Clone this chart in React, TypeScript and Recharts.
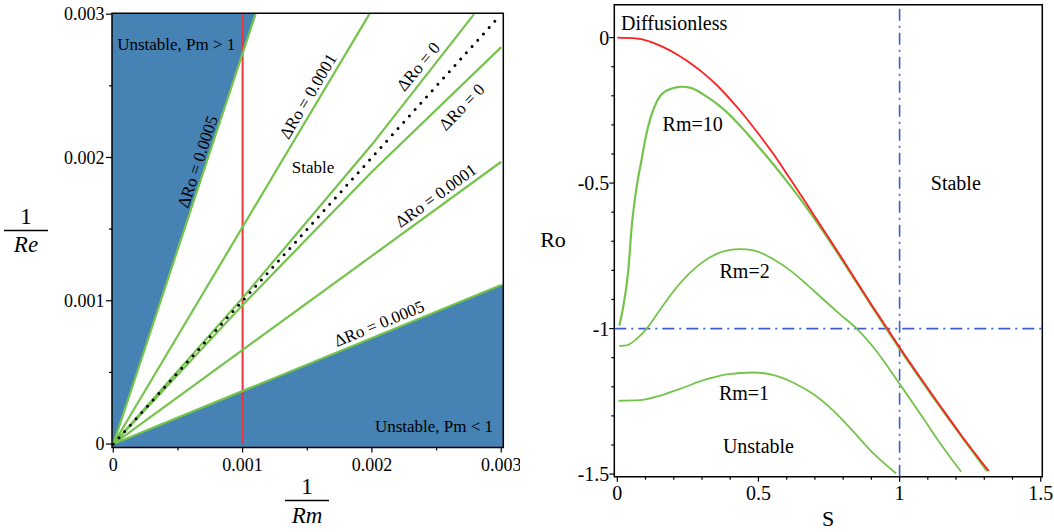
import React from "react";
import {
  ComposedChart,
  Line,
  Area,
  XAxis,
  YAxis,
  ReferenceArea,
  ReferenceLine,
  ReferenceDot,
} from "recharts";

const SERIF = "'Liberation Serif', 'Times New Roman', serif";
const GREEN = "#74c44c";
const STEEL = "#4682b4";
const DASH_BLUE = "#3f5fc6";

// ---------- left panel: 1/Rm vs 1/Re ----------
const invRmMajor = [0, 0.001, 0.002, 0.003];
const invRmMinor = [0.0005, 0.0015, 0.0025];
const invReMajor = [0, 0.001, 0.002, 0.003];
const invReMinor = [0.0005, 0.0015, 0.0025];

const L_X: [number, number] = [-0.00001, 0.003016];
const L_Y: [number, number] = [-0.000024, 0.003006];

// marginal curves, labelled by ΔRo
const dRo0005Upper = [
  { x: 0, y: 0 },
  { x: 0.0011, y: 0.003 },
];
const dRo0001Upper = [
  { x: 0, y: 0 },
  { x: 0.00198, y: 0.003 },
];
const dRo0Upper = [
  { x: 0, y: 0 },
  { x: 0.001, y: 0.00102 },
  { x: 0.002, y: 0.00209 },
  { x: 0.00279, y: 0.003 },
];
const pmUnity = [
  { x: 0, y: 0 },
  { x: 0.00297, y: 0.00297 },
];
const dRo0Lower = [
  { x: 0, y: 0 },
  { x: 0.001, y: 0.00097 },
  { x: 0.002, y: 0.0019 },
  { x: 0.003, y: 0.00277 },
];
const dRo0001Lower = [
  { x: 0, y: 0 },
  { x: 0.003, y: 0.00197 },
];
const dRo0005Lower = [
  { x: 0, y: 0 },
  { x: 0.003, y: 0.00111 },
];
const rmCut = [
  { x: 0.001, y: 0 },
  { x: 0.001, y: 0.003 },
];

// shaded unstable wedges (low, high)
const unstableHighPm = [
  { x: L_X[0], band: [L_Y[0], L_Y[1]] },
  { x: 0, band: [0, L_Y[1]] },
  { x: 0.0011, band: [0.003, L_Y[1]] },
];
const unstableLowPm = [
  { x: L_X[0], band: [L_Y[0], 0] },
  { x: 0, band: [L_Y[0], 0] },
  { x: 0.003, band: [L_Y[0], 0.00111] },
  { x: L_X[1], band: [L_Y[0], 0.001116] },
];

const leftNotes = [
  { text: "ΔRo = 0.0005", x: 0.000651, y: 0.00197, angle: 71.7 },
  { text: "ΔRo = 0.0001", x: 0.001504, y: 0.002428, angle: 59.3 },
  { text: "ΔRo = 0", x: 0.002357, y: 0.002635, angle: 49.9 },
  { text: "ΔRo = 0", x: 0.002693, y: 0.002353, angle: 45.7 },
  { text: "ΔRo = 0.0001", x: 0.002494, y: 0.001735, angle: 36 },
  { text: "ΔRo = 0.0005", x: 0.002055, y: 0.000842, angle: 22.3 },
];

// ---------- right panel: S vs Ro ----------
const sMajor = [0, 0.5, 1, 1.5];
const sMinor = [0.1, 0.2, 0.3, 0.4, 0.6, 0.7, 0.8, 0.9, 1.1, 1.2, 1.3, 1.4];
const roMajor = [0, -0.5, -1, -1.5];
const roMinor = [-0.1, -0.2, -0.3, -0.4, -0.6, -0.7, -0.8, -0.9, -1.1, -1.2, -1.3, -1.4];

const R_X: [number, number] = [-0.0106, 1.5055];
const R_Y: [number, number] = [-1.509, 0.113];

const diffusionless = [
  { s: 0, ro: 0 }, { s: 0.065, ro: -0.003 }, { s: 0.116, ro: -0.014 },
  { s: 0.163, ro: -0.033 }, { s: 0.21, ro: -0.057 }, { s: 0.258, ro: -0.087 },
  { s: 0.305, ro: -0.122 }, { s: 0.352, ro: -0.163 }, { s: 0.4, ro: -0.212 },
  { s: 0.447, ro: -0.265 }, { s: 0.494, ro: -0.323 }, { s: 0.553, ro: -0.4 },
  { s: 0.612, ro: -0.485 }, { s: 0.671, ro: -0.572 }, { s: 0.73, ro: -0.66 },
  { s: 0.79, ro: -0.75 }, { s: 0.849, ro: -0.84 }, { s: 0.908, ro: -0.929 },
  { s: 0.955, ro: -0.998 }, { s: 1.002, ro: -1.068 }, { s: 1.073, ro: -1.168 },
  { s: 1.144, ro: -1.266 }, { s: 1.215, ro: -1.362 }, { s: 1.316, ro: -1.49 },
];
const rm10 = [
  { s: 0.007, ro: -0.99 }, { s: 0.021, ro: -0.925 }, { s: 0.039, ro: -0.8 },
  { s: 0.051, ro: -0.65 }, { s: 0.069, ro: -0.51 }, { s: 0.086, ro: -0.42 },
  { s: 0.1, ro: -0.345 }, { s: 0.118, ro: -0.275 }, { s: 0.14, ro: -0.22 },
  { s: 0.175, ro: -0.182 }, { s: 0.228, ro: -0.169 }, { s: 0.26, ro: -0.173 },
  { s: 0.317, ro: -0.203 }, { s: 0.376, ro: -0.246 }, { s: 0.435, ro: -0.303 },
  { s: 0.494, ro: -0.368 }, { s: 0.553, ro: -0.436 }, { s: 0.612, ro: -0.508 },
  { s: 0.671, ro: -0.585 }, { s: 0.73, ro: -0.667 }, { s: 0.79, ro: -0.755 },
  { s: 0.908, ro: -0.933 }, { s: 1.002, ro: -1.072 }, { s: 1.144, ro: -1.27 },
  { s: 1.31, ro: -1.49 },
];
const rm2 = [
  { s: 0.007, ro: -1.06 }, { s: 0.033, ro: -1.058 }, { s: 0.069, ro: -1.035 },
  { s: 0.104, ro: -1.0 }, { s: 0.151, ro: -0.936 }, { s: 0.199, ro: -0.872 },
  { s: 0.258, ro: -0.808 }, { s: 0.317, ro: -0.762 }, { s: 0.376, ro: -0.735 },
  { s: 0.435, ro: -0.727 }, { s: 0.482, ro: -0.731 }, { s: 0.553, ro: -0.762 },
  { s: 0.612, ro: -0.8 }, { s: 0.671, ro: -0.848 }, { s: 0.73, ro: -0.9 },
  { s: 0.79, ro: -0.952 }, { s: 0.848, ro: -1.0 }, { s: 0.908, ro: -1.065 },
  { s: 1.0, ro: -1.19 }, { s: 1.085, ro: -1.31 }, { s: 1.144, ro: -1.395 },
  { s: 1.218, ro: -1.492 },
];
const rm1 = [
  { s: 0.004, ro: -1.248 }, { s: 0.08, ro: -1.246 }, { s: 0.139, ro: -1.234 },
  { s: 0.222, ro: -1.207 }, { s: 0.317, ro: -1.174 }, { s: 0.388, ro: -1.157 },
  { s: 0.482, ro: -1.151 }, { s: 0.553, ro: -1.16 }, { s: 0.624, ro: -1.186 },
  { s: 0.695, ro: -1.226 }, { s: 0.766, ro: -1.283 }, { s: 0.837, ro: -1.355 },
  { s: 0.908, ro: -1.43 }, { s: 0.988, ro: -1.498 },
];

const criticalS = 1;
const criticalRo = -1;

const rightNotes = [
  { text: "Rm=10", s: 0.267, ro: -0.297 },
  { text: "Rm=2", s: 0.451, ro: -0.802 },
  { text: "Rm=1", s: 0.449, ro: -1.222 },
  { text: "Unstable", s: 0.5, ro: -1.404 },
  { text: "Stable", s: 1.199, ro: -0.5 },
];

type TickOpts = { major: number; minor: number; size: number; gap: number };

function makeTick(side: "left" | "bottom", majors: number[], o: TickOpts) {
  return (props: any) => {
    const { x, y, payload } = props;
    const v = payload.value;
    const isMajor = majors.some((m) => Math.abs(m - v) < 1e-9);
    const len = isMajor ? o.major : o.minor;
    if (side === "left") {
      return (
        <g>
          <line x1={x} x2={x - len} y1={y} y2={y} stroke="#000" strokeWidth={1.2} />
          {isMajor && (
            <text x={x - o.major - o.gap} y={y} dy="0.35em" textAnchor="end"
              fontFamily={SERIF} fontSize={o.size} fill="#000">
              {String(v)}
            </text>
          )}
        </g>
      );
    }
    return (
      <g>
        <line x1={x} x2={x} y1={y} y2={y + len} stroke="#000" strokeWidth={1.2} />
        {isMajor && (
          <text x={x} y={y + o.gap} textAnchor="middle" fontFamily={SERIF}
            fontSize={o.size} fill="#000">
            {String(v)}
          </text>
        )}
      </g>
    );
  };
}

const note = (text: string, angle: number, size: number, anchor = "middle") => (p: any) => (
  <text x={p.cx} y={p.cy} dy="0.35em" textAnchor={anchor} fontFamily={SERIF} fontSize={size}
    fill="#000" transform={angle ? `rotate(${-angle} ${p.cx} ${p.cy})` : undefined}>
    {text}
  </text>
);

function StabilityPlane() {
  const green = (data: any[], key: string) => (
    <Line key={key} data={data} dataKey="y" type="linear" stroke={GREEN} strokeWidth={2.2}
      dot={false} isAnimationActive={false} />
  );
  return (
    <ComposedChart width={520} height={532}
      margin={{ top: 13.3, right: 16.7, bottom: 83.5, left: 111 }}>
      <XAxis type="number" dataKey="x" domain={L_X} allowDataOverflow
        ticks={[...invRmMajor, ...invRmMinor]} interval={0} height={1}
        axisLine={false} tickLine={false} tickSize={0} tickMargin={0}
        tick={makeTick("bottom", invRmMajor, { major: 5, minor: 3, size: 18, gap: 23 })} />
      <YAxis type="number" dataKey="y" domain={L_Y} allowDataOverflow
        ticks={[...invReMajor, ...invReMinor]} interval={0} width={1}
        axisLine={false} tickLine={false} tickSize={0} tickMargin={0}
        tick={makeTick("left", invReMajor, { major: 6, minor: 3, size: 18, gap: 1.5 })} />
      <Area data={unstableHighPm} dataKey="band" type="linear" stroke="none" fill={STEEL}
        fillOpacity={1} isAnimationActive={false} />
      <Area data={unstableLowPm} dataKey="band" type="linear" stroke="none" fill={STEEL}
        fillOpacity={1} isAnimationActive={false} />
      <Line data={rmCut} dataKey="y" type="linear" stroke="#e8363c" strokeWidth={2}
        dot={false} isAnimationActive={false} />
      {green(dRo0005Upper, "a")}
      {green(dRo0001Upper, "b")}
      {green(dRo0Upper, "c")}
      {green(dRo0Lower, "d")}
      {green(dRo0001Lower, "e")}
      {green(dRo0005Lower, "f")}
      <Line data={pmUnity} dataKey="y" type="linear" stroke="#000" strokeWidth={3}
        strokeDasharray="0 8.5" strokeLinecap="round" dot={false} isAnimationActive={false} />
      <ReferenceArea x1={L_X[0]} x2={L_X[1]} y1={L_Y[0]} y2={L_Y[1]} fill="none"
        fillOpacity={0} stroke="#000" strokeWidth={1.5} ifOverflow="visible" />
      {leftNotes.map((n, i) => (
        <ReferenceDot key={i} x={n.x} y={n.y} r={0} ifOverflow="visible"
          shape={note(n.text, n.angle, 17)} />
      ))}
      <ReferenceDot x={0.00003} y={0.00279} r={0} ifOverflow="visible"
        shape={note("Unstable, Pm > 1", 0, 17, "start")} />
      <ReferenceDot x={0.001545} y={0.001933} r={0} ifOverflow="visible"
        shape={note("Stable", 0, 17)} />
      <ReferenceDot x={0.002937} y={0.000126} r={0} ifOverflow="visible"
        shape={note("Unstable, Pm < 1", 0, 17, "end")} />
    </ComposedChart>
  );
}

function RossbyPanel() {
  const curve = (data: any[], color: string, key: string, w = 1.8) => (
    <Line key={key} data={data} dataKey="ro" type="monotone" stroke={color} strokeWidth={w}
      dot={false} isAnimationActive={false} />
  );
  return (
    <ComposedChart width={524} height={532}
      margin={{ top: 4.7, right: 11.7, bottom: 54.3, left: 83.3 }}>
      <XAxis type="number" dataKey="s" domain={R_X} allowDataOverflow
        ticks={[...sMajor, ...sMinor]} interval={0} height={1}
        axisLine={false} tickLine={false} tickSize={0} tickMargin={0}
        tick={makeTick("bottom", sMajor, { major: 5, minor: 3, size: 20, gap: 23.5 })} />
      <YAxis type="number" dataKey="ro" domain={R_Y} allowDataOverflow
        ticks={[...roMajor, ...roMinor]} interval={0} width={1}
        axisLine={false} tickLine={false} tickSize={0} tickMargin={0}
        tick={makeTick("left", roMajor, { major: 5, minor: 3, size: 20, gap: 0 })} />
      <ReferenceLine y={criticalRo} stroke={DASH_BLUE} strokeWidth={1.6}
        strokeDasharray="12 5 2 5" />
      <ReferenceLine x={criticalS} stroke={DASH_BLUE} strokeWidth={1.6}
        strokeDasharray="12 5 2 5" />
      {curve(rm1, GREEN, "rm1")}
      {curve(rm2, GREEN, "rm2")}
      {curve(rm10, GREEN, "rm10", 2.2)}
      {curve(diffusionless, "#ff1f1f", "diff", 1.8)}
      <ReferenceArea x1={R_X[0]} x2={R_X[1]} y1={R_Y[0]} y2={R_Y[1]} fill="none"
        fillOpacity={0} stroke="#000" strokeWidth={1.5} ifOverflow="visible" />
      <ReferenceDot x={0.013} y={0.05} r={0} ifOverflow="visible"
        shape={note("Diffusionless", 0, 20, "start")} />
      {rightNotes.map((n, i) => (
        <ReferenceDot key={i} x={n.s} y={n.ro} r={0} ifOverflow="visible"
          shape={note(n.text, 0, 20)} />
      ))}
    </ComposedChart>
  );
}

export default function App() {
  return (
    <div style={{ position: "absolute", left: 0, top: 0, width: 1054, height: 532, background: "#fff", overflow: "hidden" }}>
      <div style={{ position: "absolute", left: 0, top: 0 }}>
        <StabilityPlane />
      </div>
      <div style={{ position: "absolute", left: 530, top: 0 }}>
        <RossbyPanel />
      </div>
      <svg width={1054} height={532} style={{ position: "absolute", left: 0, top: 0, pointerEvents: "none" }}>
        <g fontFamily={SERIF} fill="#000">
          <text x={26} y={224} fontSize={23} textAnchor="middle">1</text>
          <line x1={4} x2={48} y1={230.5} y2={230.5} stroke="#000" strokeWidth={1.3} />
          <text x={26} y={252} fontSize={23} fontStyle="italic" textAnchor="middle">Re</text>
          <text x={307} y={494} fontSize={23} textAnchor="middle">1</text>
          <line x1={285} x2={329} y1={500.5} y2={500.5} stroke="#000" strokeWidth={1.3} />
          <text x={307} y={523} fontSize={23} fontStyle="italic" textAnchor="middle">Rm</text>
          <text x={553} y={247} fontSize={22} textAnchor="middle">Ro</text>
          <text x={828} y={526} fontSize={22} textAnchor="middle">S</text>
        </g>
      </svg>
    </div>
  );
}
